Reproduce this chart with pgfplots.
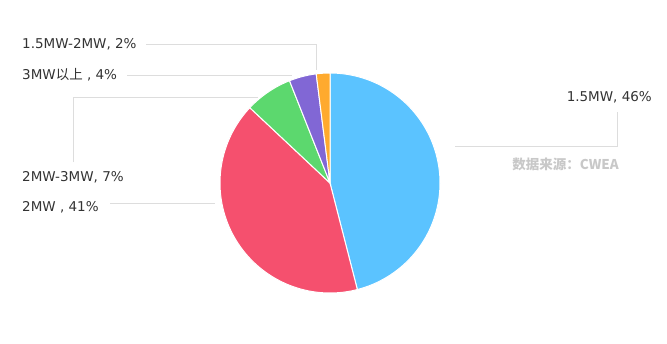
\documentclass[border=0pt]{standalone}
\usepackage{pgfplots}
\pgfplotsset{compat=1.18}
\usepackage{fontspec}
\setmainfont{DejaVu Sans}
\newfontfamily\cjk{Noto Sans CJK SC}
\definecolor{cblue}{HTML}{5BC3FF}
\definecolor{cred}{HTML}{F5506E}
\definecolor{cgreen}{HTML}{5CD86E}
\definecolor{cpurple}{HTML}{8167D5}
\definecolor{corange}{HTML}{FFAA2E}
\definecolor{ctext}{HTML}{333333}
\definecolor{cline}{HTML}{DDDDDD}
\definecolor{csrc}{HTML}{C8C8C8}
% shares (percent), clockwise from 12 o'clock
\def\vA{46}\def\vB{41}\def\vC{7}\def\vD{4}\def\vE{2}
\pgfmathsetmacro\aA{90}
\pgfmathsetmacro\aB{\aA-3.6*\vA}
\pgfmathsetmacro\aC{\aB-3.6*\vB}
\pgfmathsetmacro\aD{\aC-3.6*\vC}
\pgfmathsetmacro\aE{\aD-3.6*\vD}
\pgfmathsetmacro\aF{\aE-3.6*\vE}
\def\cx{330}\def\cy{183}\def\R{110}
\begin{document}
\begin{tikzpicture}
\begin{axis}[
  scale only axis, width=667pt, height=343pt,
  xmin=0, xmax=667, ymin=0, ymax=343, y dir=reverse,
  hide axis, clip=false,
  every axis plot/.append style={no markers},
]
\path (axis cs:0,0) rectangle (axis cs:667,343);
\addplot[fill=cblue, draw=white, line width=1pt, domain=\aB:\aA, samples=80] ({\cx+\R*cos(x)},{\cy-\R*sin(x)}) -- (axis cs:\cx,\cy) -- cycle;
\addplot[fill=cred, draw=white, line width=1pt, domain=\aC:\aB, samples=80] ({\cx+\R*cos(x)},{\cy-\R*sin(x)}) -- (axis cs:\cx,\cy) -- cycle;
\addplot[fill=cgreen, draw=white, line width=1pt, domain=\aD:\aC, samples=20] ({\cx+\R*cos(x)},{\cy-\R*sin(x)}) -- (axis cs:\cx,\cy) -- cycle;
\addplot[fill=cpurple, draw=white, line width=1pt, domain=\aE:\aD, samples=12] ({\cx+\R*cos(x)},{\cy-\R*sin(x)}) -- (axis cs:\cx,\cy) -- cycle;
\addplot[fill=corange, draw=white, line width=1pt, domain=\aF:\aE, samples=8] ({\cx+\R*cos(x)},{\cy-\R*sin(x)}) -- (axis cs:\cx,\cy) -- cycle;
% leader lines
\addplot[cline, line width=0.8pt] coordinates {(146,44) (316,44) (316,70)};
\addplot[cline, line width=0.8pt] coordinates {(127,75) (292,75)};
\addplot[cline, line width=0.8pt] coordinates {(73,162) (73,97) (258,97)};
\addplot[cline, line width=0.8pt] coordinates {(110,203) (215,203)};
\addplot[cline, line width=0.8pt] coordinates {(617,112) (617,146) (455,146)};
% labels
\begin{scope}[every node/.style={font=\fontsize{13.5}{15}\selectfont, text=ctext, inner sep=0pt}]
\node[anchor=west] at (axis cs:22,44) {1.5MW-2MW, 2\%};
\node[anchor=west] at (axis cs:22,75) {3MW{\cjk 以上} , 4\%};
\node[anchor=west] at (axis cs:22,177) {2MW-3MW, 7\%};
\node[anchor=west] at (axis cs:22,207) {2MW , 41\%};
\node[anchor=east] at (axis cs:652,97) {1.5MW, 46\%};
\end{scope}
\node[anchor=east, inner sep=0pt, text=csrc, font=\fontsize{13.5}{15}\selectfont\cjk\bfseries] at (axis cs:619,164) {数据来源：CWEA};
\end{axis}
\end{tikzpicture}
\end{document}
